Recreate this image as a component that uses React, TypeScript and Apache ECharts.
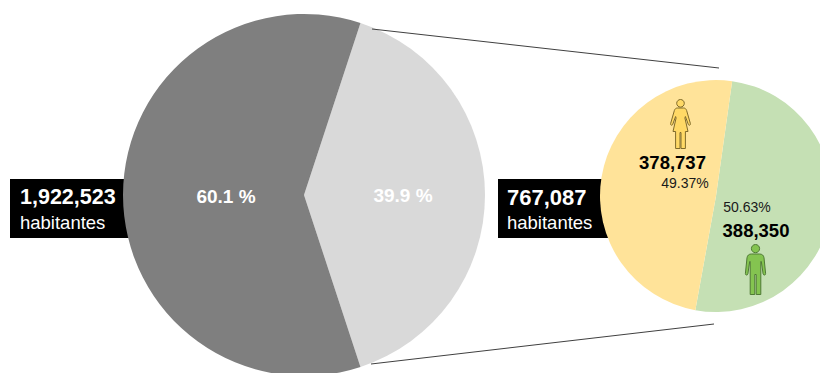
import React, { useEffect, useRef } from "react";
import * as echarts from "echarts";

// Population split by sex and the share of each group
const regionNames = ["Resto", "Zona"];
const regionShares = [60.1, 39.9];
const regionTotals = ["1,922,523", "767,087"];
const totalUnit = "habitantes";
const sexNames = ["Hombres", "Mujeres"];
const sexShares = [50.63, 49.37];
const sexCounts = ["388,350", "378,737"];

const FONT = '"Liberation Sans", Arial, sans-serif';

const WOMAN =
  "M10.5 1.5C8.4 1.5 6.7 3.2 6.7 5.3C6.7 7.4 8.4 9.1 10.5 9.1C12.6 9.1 14.3 7.4 14.3 5.3C14.3 3.2 12.6 1.5 10.5 1.5Z" +
  "M7.5 10L13.5 10C15 10 16 10.8 16.6 12.4L20.4 25.6C20.8 27.2 18.8 27.9 18.3 26.4L15.4 18.5L14.9 20L18 33.5L15.4 33.5L15.4 50.5L11 50.5L11 34.5L10 34.5L10 50.5L5.6 50.5L5.6 33.5L3 33.5L6.1 20L5.6 18.5L2.7 26.4C2.2 27.9 0.2 27.2 0.6 25.6L4.4 12.4C5 10.8 6 10 7.5 10Z";

const MAN =
  "M10.5 0.5C8.2 0.5 6.4 2.4 6.4 4.6C6.4 6.8 8.2 8.7 10.5 8.7C12.8 8.7 14.6 6.8 14.6 4.6C14.6 2.4 12.8 0.5 10.5 0.5Z" +
  "M6.5 10L14.5 10C17.2 10 18.6 11.4 19 13.8L20.6 29.5C20.8 31.4 18.4 31.6 18.1 29.8L16.3 17.5L15.8 17.5L15.8 50.5L11.2 50.5L11.2 30.5L9.8 30.5L9.8 50.5L5.2 50.5L5.2 17.5L4.7 17.5L2.9 29.8C2.6 31.6 0.2 31.4 0.4 29.5L2 13.8C2.4 11.4 3.8 10 6.5 10Z";

echarts.graphic.registerShape("womanIcon", echarts.graphic.extendPath(WOMAN, {}));
echarts.graphic.registerShape("manIcon", echarts.graphic.extendPath(MAN, {}));

function label(
  text: string,
  x: number,
  y: number,
  size: number,
  fill: string,
  bold = false,
  align = "center"
) {
  return {
    type: "text",
    x,
    y,
    z: 10,
    silent: true,
    style: {
      text,
      fill,
      font: `${bold ? "bold " : ""}${size}px ${FONT}`,
      textAlign: align,
      textVerticalAlign: "middle",
    },
  };
}

function connector(x1: number, y1: number, x2: number, y2: number) {
  return {
    type: "line",
    z: 10,
    silent: true,
    shape: { x1, y1, x2, y2 },
    style: { stroke: "#404040", lineWidth: 1 },
  };
}

export default function App() {
  const ref = useRef<HTMLDivElement>(null);

  useEffect(() => {
    document.body.style.margin = "0";
    const chart = echarts.init(ref.current!, undefined, { renderer: "svg" });
    chart.setOption({
      animation: false,
      backgroundColor: "#ffffff",
      series: [
        {
          type: "pie",
          silent: true,
          center: [304, 195],
          radius: [0, 181],
          startAngle: (regionShares[1] * 3.6) / 2,
          label: { show: false },
          labelLine: { show: false },
          data: [
            { name: regionNames[1], value: regionShares[1], itemStyle: { color: "#d9d9d9" } },
            { name: regionNames[0], value: regionShares[0], itemStyle: { color: "#7f7f7f" } },
          ],
        },
        {
          type: "pie",
          silent: true,
          center: [716, 196],
          radius: [0, 116],
          startAngle: 82,
          label: { show: false },
          labelLine: { show: false },
          data: [
            { name: sexNames[0], value: sexShares[0], itemStyle: { color: "#c5e0b4" } },
            { name: sexNames[1], value: sexShares[1], itemStyle: { color: "#ffe399" } },
          ],
        },
      ],
      graphic: {
        elements: [
          { type: "rect", z: 0, silent: true, shape: { x: 10, y: 179, width: 125, height: 59 }, style: { fill: "#000000" } },
          { type: "rect", z: 0, silent: true, shape: { x: 498, y: 179, width: 115, height: 59 }, style: { fill: "#000000" } },
          connector(372, 29, 719, 68),
          connector(371, 364, 714, 324),
          label(regionTotals[0], 20, 197, 21.5, "#ffffff", true, "left"),
          label(totalUnit, 20, 222, 18.5, "#ffffff", false, "left"),
          label(regionTotals[1], 507, 197, 22, "#ffffff", true, "left"),
          label(totalUnit, 507, 222, 18.5, "#ffffff", false, "left"),
          label(`${regionShares[0]} %`, 226, 196, 19, "#ffffff", true),
          label(`${regionShares[1]} %`, 403, 195, 19, "#ffffff", true),
          label(sexCounts[1], 672.5, 162, 18.5, "#000000", true),
          label(`${sexShares[1]}%`, 685, 183, 14, "#1a1a1a"),
          label(`${sexShares[0]}%`, 747, 207, 14, "#1a1a1a"),
          label(sexCounts[0], 756, 230, 18.5, "#000000", true),
          {
            type: "womanIcon",
            x: 670,
            y: 98,
            z: 10,
            silent: true,
            style: { fill: "#ffd966", stroke: "#7f6a2a", lineWidth: 1 },
          },
          {
            type: "manIcon",
            x: 745,
            y: 244,
            z: 10,
            silent: true,
            style: { fill: "#84c450", stroke: "#4f7a35", lineWidth: 1 },
          },
        ],
      },
    });
    return () => chart.dispose();
  }, []);

  return <div ref={ref} style={{ width: 820, height: 373 }} />;
}
